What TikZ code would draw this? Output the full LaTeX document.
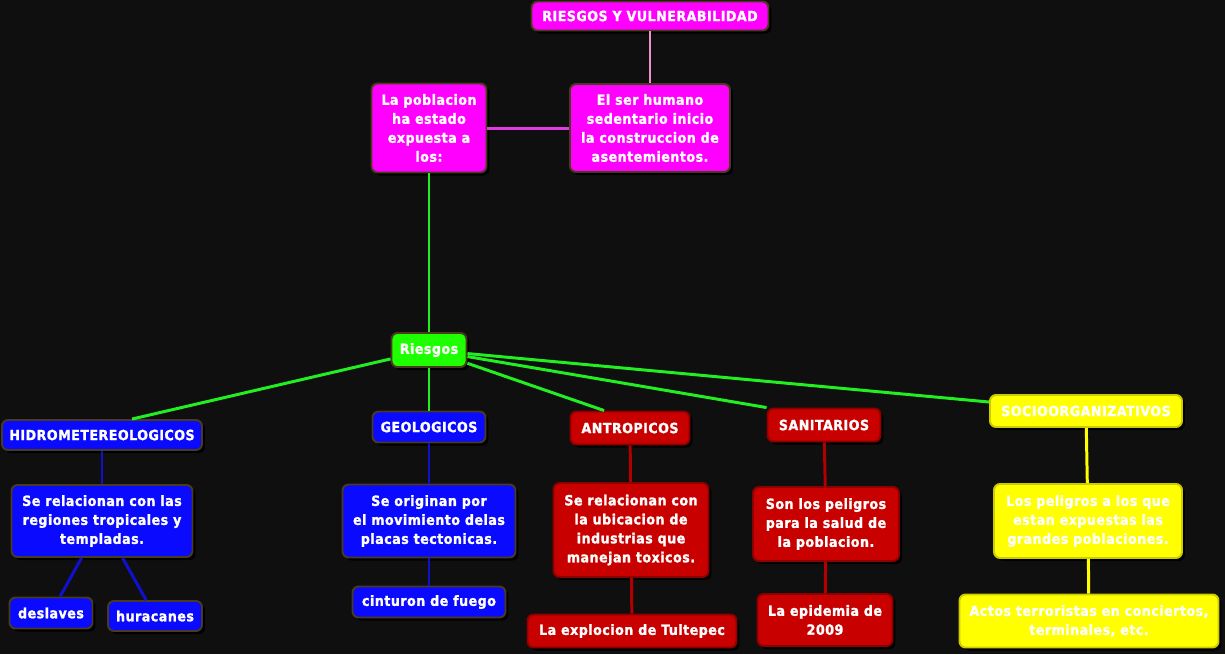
\documentclass[tikz,border=0pt]{standalone}
\usepackage{fontspec}
\newfontfamily\mapfont{DejaVu Sans Condensed}[LetterSpace=3.5,BoldFeatures={FakeBold=1.5}]
\usetikzlibrary{shadows}
\definecolor{bgdark}{HTML}{0F0F0F}
\definecolor{rim}{HTML}{4A3A1E}
\definecolor{magbox}{HTML}{FF00FF}
\definecolor{bluebox}{HTML}{0A0AFF}
\definecolor{redbox}{HTML}{C80000}
\definecolor{yelbox}{HTML}{FFFF00}
\definecolor{grnbox}{HTML}{1EFF00}
\definecolor{pinkline}{HTML}{F090D0}
\definecolor{magline}{HTML}{E03CE0}
\definecolor{grnline}{HTML}{22EE22}
\definecolor{blueline}{HTML}{1010D0}
\definecolor{redline}{HTML}{B00000}

\begin{document}
\begin{tikzpicture}[x=0.02cm,y=-0.02cm,
  box/.style={rectangle,rounded corners=0.12cm,draw=rim,line width=1.1pt,text=white,
    align=center,inner sep=0pt,font=\mapfont\bfseries\fontsize{8}{10.8}\selectfont,
    drop shadow={opacity=1,fill=black,shadow xshift=0.06cm,shadow yshift=-0.06cm}},
  magb/.style={box,fill=magbox},
  grnb/.style={box,fill=grnbox},
  blub/.style={box,fill=bluebox},
  redb/.style={box,fill=redbox,draw=redbox!70!black},
  yelb/.style={box,fill=yelbox,draw=yelbox!80!black},
  link/.style={line width=1.7pt}]
\fill[bgdark] (0,0) rectangle (1225,654);
\useasboundingbox (0,0) rectangle (1225,654);

% top
\node[magb,minimum width=4.74cm,minimum height=0.58cm] (title) at (650,16) {RIESGOS Y VULNERABILIDAD};
\node[magb,minimum width=3.2cm,minimum height=1.76cm] (humano) at (650,128) {El ser humano\\sedentario inicio\\la construccion de\\asentemientos.};
\node[magb,minimum width=2.3cm,minimum height=1.78cm] (poblacion) at (429,128) {La poblacion\\ha estado\\expuesta a\\los:};
\node[grnb,minimum width=1.5cm,minimum height=0.68cm] (riesgos) at (429,350) {Riesgos};

% categorias
\node[blub,minimum width=4.0cm,minimum height=0.6cm] (hidro) at (102,435) {HIDROMETEREOLOGICOS};
\node[blub,minimum width=2.26cm,minimum height=0.62cm] (geo) at (429,427) {GEOLOGICOS};
\node[redb,minimum width=2.38cm,minimum height=0.66cm] (antro) at (630,428) {ANTROPICOS};
\node[redb,minimum width=2.26cm,minimum height=0.66cm] (sani) at (824,425) {SANITARIOS};
\node[yelb,minimum width=3.84cm,minimum height=0.64cm] (socio) at (1086,411) {SOCIOORGANIZATIVOS};

% descripciones
\node[blub,minimum width=3.62cm,minimum height=1.44cm] (hidrodesc) at (102,521) {Se relacionan con las\\regiones tropicales y\\templadas.};
\node[blub,minimum width=3.46cm,minimum height=1.46cm] (geodesc) at (429,521) {Se originan por\\el movimiento delas\\placas tectonicas.};
\node[redb,minimum width=3.1cm,minimum height=1.88cm] (antrodesc) at (631,530) {Se relacionan con\\la ubicacion de\\industrias que\\manejan toxicos.};
\node[redb,minimum width=2.92cm,minimum height=1.48cm] (sanidesc) at (826,524) {Son los peligros\\para la salud de\\la poblacion.};
\node[yelb,minimum width=3.76cm,minimum height=1.48cm] (sociodesc) at (1088,521) {Los peligros a los que\\estan expuestas las\\grandes poblaciones.};

% ejemplos
\node[blub,minimum width=1.66cm,minimum height=0.62cm] (deslaves) at (51,613) {deslaves};
\node[blub,minimum width=1.88cm,minimum height=0.6cm] (huracanes) at (155,616) {huracanes};
\node[blub,minimum width=3.06cm,minimum height=0.62cm] (cinturon) at (429,602) {cinturon de fuego};
\node[redb,minimum width=4.18cm,minimum height=0.66cm] (tultepec) at (632,631) {La explocion de Tultepec};
\node[redb,minimum width=2.7cm,minimum height=1.04cm] (epidemia) at (825,620) {La epidemia de\\2009};
\node[yelb,minimum width=5.18cm,minimum height=1.06cm] (actos) at (1089,621) {Actos terroristas en conciertos,\\terminales, etc.};

% conectores
\draw[link,pinkline] (title) -- (humano);
\draw[link,magline] (poblacion) -- (humano);
\draw[link,grnline] (poblacion) -- (riesgos);
\draw[link,grnline] (riesgos) -- (hidro.28);
\draw[link,grnline] (riesgos) -- (antro.146);
\draw[link,grnline] (riesgos) -- (sani.north west);
\foreach \cat in {geo,socio}
  \draw[link,grnline] (riesgos) -- (\cat);
\draw[link,blueline] (hidro) -- (hidrodesc);
\draw[link,blueline] (hidrodesc) -- (deslaves);
\draw[link,blueline] (hidrodesc) -- (huracanes);
\draw[link,blueline] (geo) -- (geodesc);
\draw[link,blueline] (geodesc) -- (cinturon);
\draw[link,redline] (antro) -- (antrodesc);
\draw[link,redline] (antrodesc) -- (tultepec);
\draw[link,redline] (sani) -- (sanidesc);
\draw[link,redline] (sanidesc) -- (epidemia);
\draw[link,yelbox] (socio) -- (sociodesc);
\draw[link,yelbox] (sociodesc) -- (actos);
\end{tikzpicture}
\end{document}
